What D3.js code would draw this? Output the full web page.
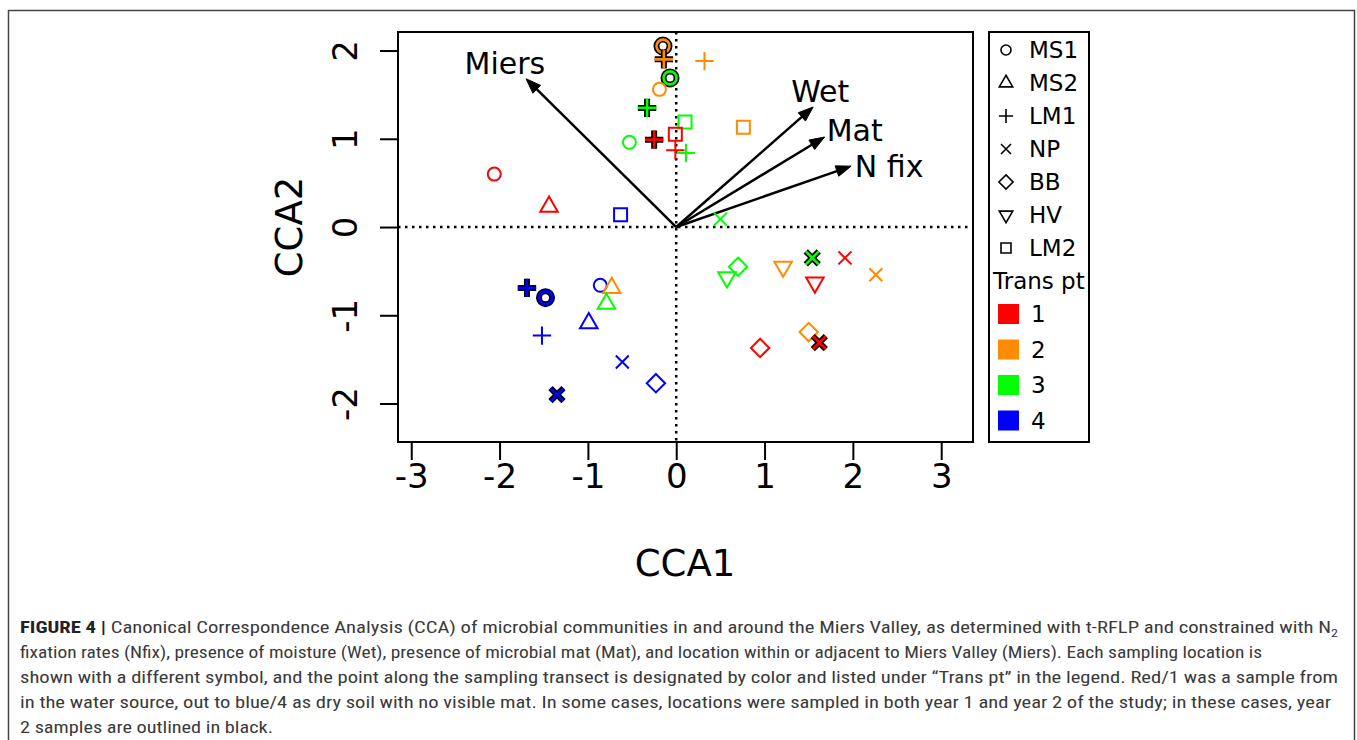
<!DOCTYPE html>
<html>
<head>
<meta charset="utf-8">
<script src="https://d3js.org/d3.v7.min.js"></script>
<style>
body, html {
  margin: 0;
  background: #fff;
  font-family: "DejaVu Sans", sans-serif;
}
.caption {
  font-family: "Liberation Sans Narrow", "Roboto Condensed", "Liberation Sans", Arial, sans-serif;
  font-size: 16px;
  fill: #3a3a3a;
}
</style>
</head>
<body>
<div id="chart"></div>
<script>

// sites / transect points, as in the legend
var siteNames = ["MS1", "MS2", "LM1", "NP", "BB", "HV", "LM2"];
var transNames = ["1", "2", "3", "4"];
var transColors = ["#ff0000", "#ff8c00", "#00ff00", "#0000ff"];

// samples
var pointSite = ["MS1","LM1","LM1","MS1","MS1","LM1","LM2","LM2","MS1","LM1","LM2","LM1","LM1",
                 "MS1","MS2","LM2",
                 "LM1","MS1","MS1","MS2","MS2","MS2","LM1","NP","BB","NP",
                 "NP","BB","HV","HV","NP","NP","NP","HV","BB","NP","BB"];
var pointTrans = [2,2,2,3,2,3,3,2,3,1,1,1,3,
                  1,1,4,
                  4,4,4,2,3,4,4,4,4,4,
                  3,3,3,2,3,1,2,1,2,1,1];
var cca1 = [-0.15,-0.14,0.32,-0.07,-0.19,-0.33,0.10,0.76,-0.53,-0.25,-0.01,-0.01,0.11,
            -2.06,-1.44,-0.63,
            -1.69,-1.48,-0.86,-0.73,-0.79,-0.99,-1.52,-0.61,-0.23,-1.35,
            0.50,0.70,0.575,1.21,1.54,1.91,2.26,1.57,1.50,1.62,0.95];
var cca2 = [2.05,1.90,1.88,1.69,1.56,1.35,1.19,1.13,0.96,0.99,1.05,0.87,0.84,
            0.60,0.23,0.14,
            -0.69,-0.80,-0.66,-0.69,-0.87,-1.09,-1.23,-1.53,-1.77,-1.90,
            0.09,-0.45,-0.57,-0.45,-0.35,-0.35,-0.54,-0.63,-1.19,-1.31,-1.37];
var year2 = [1,1,0,1,0,1,0,0,0,1,0,0,0,
             0,0,0,
             1,1,0,0,0,0,0,0,0,1,
             0,0,0,0,1,0,0,0,0,1,0];

// environmental vectors
var envNames = ["Miers", "Wet", "Mat", "N fix"];
var envX = [-1.70, 1.55, 1.68, 1.98];
var envY = [1.68, 1.36, 1.02, 0.69];
var envLabelX = [-1.94, 1.63, 2.02, 2.41];
var envLabelY = [1.86, 1.54, 1.10, 0.69];

var xTicks = [-3, -2, -1, 0, 1, 2, 3];
var yTicks = [-2, -1, 0, 1, 2];

var captionLines = [
  " Canonical Correspondence Analysis (CCA) of microbial communities in and around the Miers Valley, as determined with t-RFLP and constrained with N",
  "fixation rates (Nfix), presence of moisture (Wet), presence of microbial mat (Mat), and location within or adjacent to Miers Valley (Miers). Each sampling location is",
  "shown with a different symbol, and the point along the sampling transect is designated by color and listed under \u201cTrans pt\u201d in the legend. Red/1 was a sample from",
  "in the water source, out to blue/4 as dry soil with no visible mat. In some cases, locations were sampled in both year 1 and year 2 of the study; in these cases, year",
  "2 samples are outlined in black."
];

var width = 1357, height = 740;
var svg = d3.select("#chart").append("svg")
  .attr("width", width)
  .attr("height", height);

var x = d3.scaleLinear().domain([-3.15, 3.36]).range([398, 973]);
var y = d3.scaleLinear().domain([-2.436, 2.21]).range([442, 32]);

// R-like symbol paths, r = circle radius in px
function symbolPath(site, r) {
  var p = d3.path();
  var s2 = Math.SQRT2 * r;
  if (site == "MS1") {
    p.arc(0, 0, r, 0, 2 * Math.PI);
  } else if (site == "MS2" || site == "HV") {
    var t0 = 1.555 * r, t1 = 1.347 * r, t2 = 0.778 * r;
    var k = site == "MS2" ? -1 : 1;
    p.moveTo(0, k * t0); p.lineTo(t1, -k * t2); p.lineTo(-t1, -k * t2); p.closePath();
  } else if (site == "LM1") {
    p.moveTo(-s2, 0); p.lineTo(s2, 0); p.moveTo(0, -s2); p.lineTo(0, s2);
  } else if (site == "NP") {
    p.moveTo(-r, -r); p.lineTo(r, r); p.moveTo(-r, r); p.lineTo(r, -r);
  } else if (site == "BB") {
    p.moveTo(0, -s2); p.lineTo(s2, 0); p.lineTo(0, s2); p.lineTo(-s2, 0); p.closePath();
  } else if (site == "LM2") {
    p.rect(-r, -r, 2 * r, 2 * r);
  }
  return p.toString();
}

// outer frame of the figure
svg.append("path")
  .attr("d", "M8.5,741 L8.5,10.5 L1354.5,10.5 L1354.5,741")
  .attr("fill", "none")
  .attr("stroke", "#444")
  .attr("stroke-width", 1.5);

// zero lines
svg.append("line")
  .attr("x1", x(0)).attr("x2", x(0)).attr("y1", 32).attr("y2", 442)
  .attr("stroke", "#000").attr("stroke-width", 2.5).attr("stroke-dasharray", "2.5,4.5");
svg.append("line")
  .attr("x1", 398).attr("x2", 973).attr("y1", y(0)).attr("y2", y(0))
  .attr("stroke", "#000").attr("stroke-width", 2.5).attr("stroke-dasharray", "2.5,4.5");

// axes (plain hyphen for negatives, like R)
var fmt = function(d) { return String(d); };
var xAxis = svg.append("g").attr("transform", "translate(0,442)")
  .call(d3.axisBottom(x).tickValues(xTicks).tickSize(18).tickPadding(10).tickFormat(fmt));
var yAxis = svg.append("g").attr("transform", "translate(398,0)")
  .call(d3.axisLeft(y).tickValues(yTicks).tickSize(18).tickFormat(fmt));
[xAxis, yAxis].forEach(function(a) {
  a.select(".domain").remove();
  a.selectAll(".tick line").attr("stroke", "#000").attr("stroke-width", 2);
  a.selectAll(".tick text").attr("fill", "#000").style("font-family", "DejaVu Sans").style("font-size", "34px");
});
xAxis.selectAll(".tick text").attr("dy", null).attr("y", 46);
yAxis.selectAll(".tick text")
  .attr("x", null).attr("dy", null)
  .attr("text-anchor", "middle")
  .attr("transform", "translate(-41,0) rotate(-90)");

svg.append("text").attr("x", 685).attr("y", 576)
  .attr("text-anchor", "middle").style("font-size", "37px").text("CCA1");
svg.append("text").attr("transform", "translate(302,227) rotate(-90)")
  .attr("text-anchor", "middle").style("font-size", "37px").text("CCA2");

// env arrows
var arrows = svg.append("g");
envNames.forEach(function(name, i) {
  var x0 = x(0), y0 = y(0), x1 = x(envX[i]), y1 = y(envY[i]);
  var ang = Math.atan2(y1 - y0, x1 - x0);
  var hl = 15, hw = 5.5;
  var bx = x1 - hl * Math.cos(ang), by = y1 - hl * Math.sin(ang);
  arrows.append("line")
    .attr("x1", x0).attr("y1", y0).attr("x2", bx + 3 * Math.cos(ang)).attr("y2", by + 3 * Math.sin(ang))
    .attr("stroke", "#000").attr("stroke-width", 2.5);
  arrows.append("path")
    .attr("d", "M" + x1 + "," + y1 +
      "L" + (bx - hw * Math.sin(ang)) + "," + (by + hw * Math.cos(ang)) +
      "L" + (bx + hw * Math.sin(ang)) + "," + (by - hw * Math.cos(ang)) + "Z")
    .attr("fill", "#000").attr("stroke", "#000").attr("stroke-width", 1);
  arrows.append("text")
    .attr("x", x(envLabelX[i])).attr("y", y(envLabelY[i]))
    .attr("dy", "0.36em")
    .attr("text-anchor", "middle")
    .style("font-size", "30px")
    .text(name);
});

// points
var pts = svg.append("g");
cca1.forEach(function(v, i) {
  var g = pts.append("g").attr("transform", "translate(" + x(v) + "," + y(cca2[i]) + ")");
  var d = symbolPath(pointSite[i], 6.5);
  if (year2[i]) {
    g.append("path").attr("d", d).attr("fill", "none")
      .attr("stroke", "#000").attr("stroke-width", 6).attr("stroke-linejoin", "round");
    g.append("path").attr("d", d).attr("fill", "none")
      .attr("stroke", transColors[pointTrans[i] - 1]).attr("stroke-width", 2.6);
  } else {
    g.append("path").attr("d", d).attr("fill", "none")
      .attr("stroke", transColors[pointTrans[i] - 1]).attr("stroke-width", 2);
  }
});

// plot box
svg.append("rect")
  .attr("x", 398).attr("y", 32).attr("width", 575).attr("height", 410)
  .attr("fill", "none").attr("stroke", "#000").attr("stroke-width", 2);

// legend
var leg = svg.append("g");
leg.append("rect")
  .attr("x", 989).attr("y", 32).attr("width", 100).attr("height", 410)
  .attr("fill", "none").attr("stroke", "#000").attr("stroke-width", 2);
siteNames.forEach(function(name, i) {
  var yy = 50 + i * 33;
  leg.append("path")
    .attr("transform", "translate(1006," + yy + ")")
    .attr("d", symbolPath(name, 5))
    .attr("fill", "none").attr("stroke", "#000").attr("stroke-width", 1.6);
  leg.append("text").attr("x", 1029).attr("y", yy).attr("dy", "0.36em")
    .style("font-size", "23px").text(name);
});
leg.append("text").attr("x", 993).attr("y", 281).attr("dy", "0.36em")
  .style("font-size", "23px").text("Trans pt");
transNames.forEach(function(name, i) {
  var yy = 314 + i * 35.5;
  leg.append("rect").attr("x", 998).attr("y", yy - 10).attr("width", 21).attr("height", 20)
    .attr("fill", transColors[i]);
  leg.append("text").attr("x", 1031).attr("y", yy).attr("dy", "0.36em")
    .style("font-size", "23px").text(name);
});

// caption
var capWidths = [1318, 1242, 1318, 1311, 253];
captionLines.forEach(function(line, i) {
  var t = svg.append("text").attr("class", "caption")
    .attr("x", 20).attr("y", 633 + i * 25)
    .attr("textLength", capWidths[i]).attr("lengthAdjust", "spacingAndGlyphs");
  if (i == 0) {
    t.append("tspan").style("font-weight", "bold").attr("fill", "#222").text("FIGURE 4 |");
    t.append("tspan").text(line);
    t.append("tspan").attr("dy", 4).style("font-size", "11px").text("2");
  } else {
    t.text(line);
  }
});

</script>
</body>
</html>
